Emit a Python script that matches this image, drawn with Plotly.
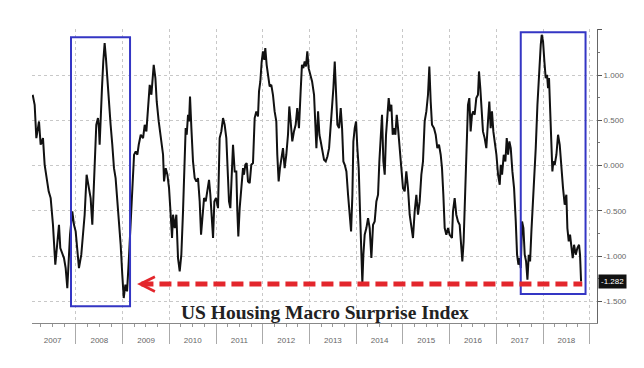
import plotly.graph_objects as go
from datetime import datetime, timedelta

# ---- data ----
t_year = [
    2007.072, 2007.115, 2007.151, 2007.208, 2007.243, 2007.293, 2007.329, 2007.365, 2007.415, 2007.458,
    2007.507, 2007.557, 2007.600, 2007.636, 2007.664, 2007.707, 2007.743, 2007.779, 2007.814, 2007.843,
    2007.872, 2007.921, 2007.957, 2007.993, 2008.029, 2008.064, 2008.114, 2008.150, 2008.186, 2008.228,
    2008.271, 2008.314, 2008.350, 2008.385, 2008.414, 2008.435, 2008.471, 2008.492, 2008.507, 2008.528,
    2008.557, 2008.585, 2008.614, 2008.642, 2008.671, 2008.707, 2008.742, 2008.778, 2008.814, 2008.849,
    2008.885, 2008.921, 2008.957, 2008.992, 2009.021, 2009.056, 2009.092, 2009.128, 2009.171, 2009.206,
    2009.242, 2009.278, 2009.313, 2009.342, 2009.385, 2009.435, 2009.470, 2009.506, 2009.542, 2009.577,
    2009.613, 2009.634, 2009.663, 2009.699, 2009.727, 2009.770, 2009.813, 2009.863, 2009.884, 2009.920,
    2009.956, 2009.991, 2010.027, 2010.056,
    2010.077, 2010.113, 2010.148, 2010.184, 2010.220, 2010.255, 2010.291, 2010.327, 2010.348, 2010.370,
    2010.398, 2010.420, 2010.441, 2010.470, 2010.505, 2010.541, 2010.577, 2010.612, 2010.648, 2010.677,
    2010.705, 2010.741, 2010.777, 2010.812, 2010.848, 2010.876, 2010.905, 2010.934, 2010.962, 2010.998,
    2011.041, 2011.076, 2011.112, 2011.148, 2011.183, 2011.219, 2011.255, 2011.276, 2011.305, 2011.333,
    2011.362, 2011.398, 2011.433, 2011.455, 2011.476, 2011.505, 2011.540, 2011.576, 2011.597, 2011.626,
    2011.655, 2011.683, 2011.719, 2011.754, 2011.790, 2011.826, 2011.861, 2011.897, 2011.919, 2011.947,
    2011.976, 2012.004, 2012.033, 2012.054, 2012.083, 2012.111, 2012.147, 2012.183, 2012.218, 2012.254,
    2012.290, 2012.311, 2012.340, 2012.368, 2012.397, 2012.433, 2012.468, 2012.504, 2012.540, 2012.568,
    2012.597, 2012.632, 2012.668, 2012.704, 2012.739, 2012.775, 2012.811, 2012.839, 2012.868, 2012.897,
    2012.925, 2012.954, 2012.982, 2013.018, 2013.054,
    2013.096, 2013.125, 2013.146, 2013.182, 2013.211, 2013.239, 2013.275, 2013.310, 2013.346, 2013.382,
    2013.418, 2013.453, 2013.482, 2013.510, 2013.539, 2013.567, 2013.596, 2013.632, 2013.667, 2013.696,
    2013.724, 2013.753, 2013.789, 2013.824, 2013.860, 2013.889, 2013.917, 2013.938, 2013.967, 2013.996,
    2014.024, 2014.053, 2014.081, 2014.110, 2014.131, 2014.153, 2014.181, 2014.217, 2014.253, 2014.288,
    2014.324, 2014.360, 2014.395, 2014.431, 2014.467, 2014.495, 2014.524, 2014.552, 2014.581, 2014.610,
    2014.638, 2014.667, 2014.695, 2014.724, 2014.752, 2014.781, 2014.809, 2014.838, 2014.867, 2014.895,
    2014.931, 2014.966, 2015.002, 2015.038, 2015.073, 2015.109, 2015.145, 2015.181, 2015.216, 2015.252,
    2015.288, 2015.323, 2015.359, 2015.395, 2015.430, 2015.466, 2015.502, 2015.537, 2015.566, 2015.595,
    2015.623, 2015.666, 2015.702, 2015.737, 2015.773, 2015.809, 2015.837, 2015.866, 2015.895, 2015.930,
    2015.966, 2016.002, 2016.051,
    2016.073, 2016.109, 2016.144, 2016.180, 2016.216, 2016.251, 2016.273, 2016.301, 2016.337, 2016.366,
    2016.394, 2016.423, 2016.451, 2016.480, 2016.508, 2016.537, 2016.572, 2016.608, 2016.630, 2016.658,
    2016.680, 2016.715, 2016.751, 2016.787, 2016.822, 2016.851, 2016.880, 2016.908, 2016.937, 2016.965,
    2017.001, 2017.036, 2017.072, 2017.094, 2017.122, 2017.158, 2017.193, 2017.222, 2017.251, 2017.279,
    2017.308, 2017.343, 2017.379, 2017.415, 2017.443, 2017.472, 2017.500, 2017.522, 2017.550, 2017.579,
    2017.607, 2017.636, 2017.665, 2017.693, 2017.722, 2017.750, 2017.779, 2017.807, 2017.843, 2017.879,
    2017.914, 2017.950, 2017.971, 2018.000, 2018.029, 2018.057, 2018.086, 2018.107, 2018.128, 2018.150,
    2018.178, 2018.200, 2018.221, 2018.250, 2018.286, 2018.321, 2018.357, 2018.392, 2018.428, 2018.464,
    2018.499, 2018.521, 2018.550, 2018.578, 2018.607, 2018.635, 2018.664, 2018.700, 2018.735, 2018.771,
    2018.792, 2018.814,
]

surprise = [
    0.783, 0.672, 0.304, 0.488, 0.230, 0.304, 0.009, -0.101, -0.285, -0.359,
    -0.654, -1.096, -0.838, -0.654, -0.912, -0.985, -1.022, -1.133, -1.354, -1.059,
    -0.764, -0.506, -0.654, -0.727, -0.985, -1.133, -0.985, -0.764, -0.543, -0.101,
    -0.212, -0.359, -0.654, -0.249, 0.120, 0.451, 0.525, 0.414, 0.230, 0.562,
    0.856, 1.151, 1.354, 1.188, 0.967, 0.635, 0.451, 0.230, -0.028, -0.138,
    -0.396, -0.580, -0.875, -1.206, -1.464, -1.317, -1.390, -1.059, -0.543, -0.138,
    0.120, 0.157, 0.120, 0.230, 0.341, 0.304, 0.451, 0.378, 0.599, 0.893,
    0.783, 0.967, 1.114, 0.967, 0.709, 0.488, 0.304, 0.120, -0.175, -0.028,
    -0.101, -0.249, -0.543, -0.801,
    -0.543, -0.691, -0.543, -1.022, -1.169, -0.985, -0.506, -0.028, 0.414, 0.341,
    0.562, 0.488, 0.764, 0.414, 0.046, -0.138, -0.175, -0.138, -0.396, -0.764,
    -0.543, -0.359, -0.396, -0.249, -0.157, -0.322, -0.543, -0.801, -0.396, -0.359,
    -0.470, 0.304, 0.378, 0.525, 0.451, 0.304, -0.138, -0.396, -0.470, -0.028,
    0.230, -0.064, -0.064, -0.506, -0.783, -0.470, -0.285, -0.028, -0.101, 0.009,
    0.028, -0.175, -0.193, 0.009, 0.028, 0.525, 0.599, 0.543, 0.820, 0.930,
    1.151, 1.262, 1.169, 1.298, 1.114, 1.004, 0.875, 0.893, 0.783, 0.599,
    0.488, 0.120, -0.175, -0.028, 0.083, 0.193, -0.028, 0.120, 0.341, 0.654,
    0.488, 0.267, 0.378, 0.451, 0.635, 0.414, 0.820, 1.114, 1.077, 1.151,
    1.096, 1.262, 1.077, 1.004, 0.930,
    0.783, 0.488, 0.193, 0.599, 0.341, 0.267, 0.157, 0.064, 0.046, 0.101,
    0.193, 0.414, 0.599, 0.856, 1.151, 0.783, 0.451, 0.414, 0.635, 0.414,
    0.046, 0.009, -0.064, -0.322, -0.580, -0.727, -0.322, 0.267, 0.414, 0.488,
    0.193, -0.028, -0.506, -1.059, -1.298, -0.985, -0.764, -0.691, -0.580, -0.691,
    -1.022, -0.654, -0.617, -0.396, -0.322, 0.046, 0.378, 0.562, 0.046, -0.101,
    0.341, 0.525, 0.746, 0.599, 0.672, 0.341, 0.414, 0.341, 0.562, 0.414,
    0.230, -0.028, -0.249, -0.285, -0.064, -0.249, -0.543, -0.654, -0.801, -0.506,
    -0.322, -0.543, -0.396, -0.101, 0.046, 0.488, 0.599, 0.783, 1.096, 0.709,
    0.451, 0.414, 0.341, 0.193, 0.230, 0.120, -0.028, -0.322, -0.691, -0.764,
    -0.691, -0.764, -0.801,
    -0.506, -0.359, -0.543, -0.617, -0.654, -0.912, -1.059, -0.838, -0.322, 0.304,
    0.672, 0.746, 0.378, 0.562, 0.599, 0.562, 0.746, 0.783, 1.041, 0.856,
    0.672, 0.378, 0.304, 0.193, 0.488, 0.709, 0.414, 0.599, 0.378, 0.267,
    0.120, -0.101, -0.212, 0.009, -0.101, 0.120, 0.046, 0.304, 0.120, 0.267,
    0.193, -0.064, -0.249, -0.617, -0.985, -1.096, -1.022, -1.133, -0.617, -0.691,
    -0.985, -1.059, -1.260, -0.985, -1.059, -0.727, -0.470, -0.249, 0.193, 0.672,
    1.077, 1.335, 1.446, 1.372, 1.151, 0.967, 1.004, 0.856, 0.967, 0.672,
    0.304, -0.064, 0.046, 0.009, 0.120, 0.341, 0.230, -0.064, -0.249, -0.433,
    -0.322, -0.691, -0.838, -0.764, -0.912, -1.022, -0.875, -0.985, -0.912, -0.875,
    -0.985, -1.282,
]

value_ticks = [-1.5, -1.0, -0.5, 0.0, 0.5, 1.0, 1.5]
value_tick_text = ["-1.500", "-1.000", "-0.500", "0.000", "0.500", "1.000", ""]
last_value = -1.282
title_text = "US Housing Macro Surprise Index"


def to_date(t):
    y = int(t)
    return datetime(y, 1, 1) + timedelta(days=(t - y) * 365.25)


dates = [to_date(t) for t in t_year]

fig = go.Figure()
fig.add_trace(go.Scatter(
    x=dates, y=surprise, mode="lines",
    line=dict(color="#111111", width=2),
    hoverinfo="skip", showlegend=False,
))

BLUE = "#3436c4"
RED = "#e3262c"

shapes = [
    # blue highlight boxes
    dict(type="rect", xref="x", yref="y", x0=to_date(2007.893), x1=to_date(2009.156),
         y0=-1.556, y1=1.42, line=dict(color=BLUE, width=2), fillcolor="rgba(0,0,0,0)"),
    dict(type="rect", xref="x", yref="y", x0=to_date(2017.522), x1=to_date(2018.91),
         y0=-1.42, y1=1.475, line=dict(color=BLUE, width=2), fillcolor="rgba(0,0,0,0)"),
    # red dashed reference line
    dict(type="line", xref="x", yref="y", x0=to_date(2009.40), x1=to_date(2018.84),
         y0=-1.31, y1=-1.31, line=dict(color=RED, width=5, dash="12px,6px")),
]

annotations = [
    # arrow head
    dict(x=to_date(2009.306), y=-1.31, xref="x", yref="y",
         ax=to_date(2009.52), ay=-1.31, axref="x", ayref="y",
         showarrow=True, arrowhead=5, arrowsize=0.9, arrowwidth=3.2,
         arrowcolor=RED, text=""),
    # title inside chart
    dict(x=0.519, y=0.037, xref="paper", yref="paper", xanchor="center", yanchor="middle",
         text=title_text, showarrow=False,
         font=dict(family="Liberation Serif, Times New Roman, serif", size=19.5,
                   color="#222222", weight="bold")),
    # last value label
    dict(x=1, y=last_value, xref="paper", yref="y", xanchor="left", yanchor="middle",
         xshift=1, text=f"{last_value:.3f}", showarrow=False,
         bgcolor="#111111", borderpad=2,
         font=dict(family="Liberation Sans, Arial, sans-serif", size=8, color="#ffffff")),
]

# page body has an 8px default margin, so the figure is 8px smaller and margins shifted
fig.update_layout(
    width=636, height=360,
    margin=dict(l=24, r=47, t=21, b=45),
    paper_bgcolor="white", plot_bgcolor="white",
    shapes=shapes, annotations=annotations,
    showlegend=False,
    xaxis=dict(
        range=[to_date(2007.058), to_date(2019.156)],
        type="date", dtick="M12", tick0="2007-01-01",
        tickformat="%Y", ticklabelmode="period",
        ticks="outside", ticklen=20, tickcolor="#aaaaaa", tickwidth=1,
        ticklabelstandoff=-11,
        showline=True, linecolor="#888888", linewidth=1,
        showgrid=True, gridcolor="#c8c8c8", griddash="dot", gridwidth=1,
        minor=dict(dtick="M3", ticks="outside", ticklen=3, tickcolor="#999999", showgrid=False),
        tickfont=dict(family="Liberation Sans, Arial, sans-serif", size=8, color="#666666"),
        zeroline=False,
    ),
    yaxis=dict(
        side="right", range=[-1.74, 1.51],
        tickvals=value_ticks, ticktext=value_tick_text,
        ticks="outside", ticklen=4, tickcolor="#555555",
        showline=True, linecolor="#666666", linewidth=1,
        showgrid=True, gridcolor="#c8c8c8", griddash="dot", gridwidth=1,
        minor=dict(dtick=0.25, ticks="outside", ticklen=2, tickcolor="#777777", showgrid=False),
        tickfont=dict(family="Liberation Sans, Arial, sans-serif", size=8, color="#666666"),
        zeroline=False,
    ),
)

fig.write_html("out.html")
